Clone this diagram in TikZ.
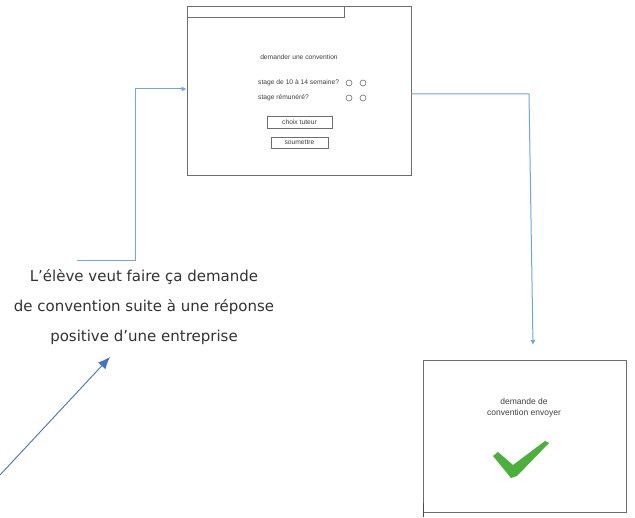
\documentclass[tikz,border=0pt]{standalone}
\usepackage{fontspec}
\setmainfont{Liberation Sans}
\newfontfamily\bigfont{DejaVu Sans}
\usetikzlibrary{arrows.meta}
\definecolor{boxgray}{HTML}{6E6E6E}
\definecolor{conn}{HTML}{6FA8DC}
\definecolor{darkarrow}{HTML}{4472C4}
\definecolor{checkgreen}{HTML}{4DAF3C}
\definecolor{txt}{HTML}{404040}
\tikzset{
  frame/.style={draw=boxgray, line width=0.8pt, inner sep=0pt},
  smalltxt/.style={font=\fontsize{6.7}{8}\selectfont, text=txt, inner sep=0pt},
  btn/.style={draw=boxgray, line width=0.7pt, font=\fontsize{6.7}{8}\selectfont, text=txt, inner sep=0pt},
  radio/.style={circle, draw=boxgray, line width=0.6pt, minimum size=6pt, inner sep=0pt},
  connector/.style={draw=conn, line width=1pt, -{Latex[length=5pt,width=5pt]}},
  bigtxt/.style={font=\bigfont\fontsize{15}{30}\selectfont, text=black!80, align=center, inner sep=0pt},
}
\begin{document}
\begin{tikzpicture}[x=1pt,y=-1pt]
\useasboundingbox[fill=white] (0,0) rectangle (635,518);
% top form
\node[frame, minimum width=224pt, minimum height=169pt] (form) at (299,90.5) {};
\node[frame, minimum width=157pt, minimum height=11pt] (tab) at (265.5,11.5) {};
\node[smalltxt] (title) at (299,57) {demander une convention};
\node[smalltxt, anchor=west] (q1) at (258,83) {stage de 10 à 14 semaine?};
\node[radio] (r1a) at (349,83) {};
\node[radio] (r1b) at (363,83) {};
\node[smalltxt, anchor=west] (q2) at (258,98) {stage rémunéré?};
\node[radio] (r2a) at (349,98) {};
\node[radio] (r2b) at (363,98) {};
\node[btn, minimum width=65pt, minimum height=12pt] (tuteur) at (299.5,122) {choix tuteur};
\node[btn, minimum width=57pt, minimum height=11pt] (submit) at (299.5,142.5) {soumettre};
% confirmation box
\node[frame, minimum width=203pt, minimum height=152pt] (done) at (524.5,436) {};
\node[smalltxt, align=center, font=\fontsize{8.5}{11}\selectfont] (msg) at (524,407.5) {demande de\\convention envoyer};
\fill[checkgreen] (493,456) -- (498,452) -- (513,465) -- (545,441) -- (549,443) -- (517,476) -- (511,478) -- cycle;
\draw[black!70, line width=0.8pt] (423,503) -- (423,517);
% description text
\node[bigtxt] (desc) at (144,307) {L’élève veut faire ça demande\\de convention suite à une réponse\\positive d’une entreprise};
% connectors
\coordinate (start) at (77,261);
\draw[connector] (start) -- (135,261) -- (135,89) -- (form.west |- 0,89);
\coordinate (downend) at (533,345);
\draw[connector] ([yshift=-3.5pt]form.east) -- (529,94) -- (downend);
\coordinate (diag) at (0,475);
\draw[draw=darkarrow, line width=0.9pt, -{Latex[length=12pt,width=10pt]}] (diag) -- (110,357);
\end{tikzpicture}
\end{document}
